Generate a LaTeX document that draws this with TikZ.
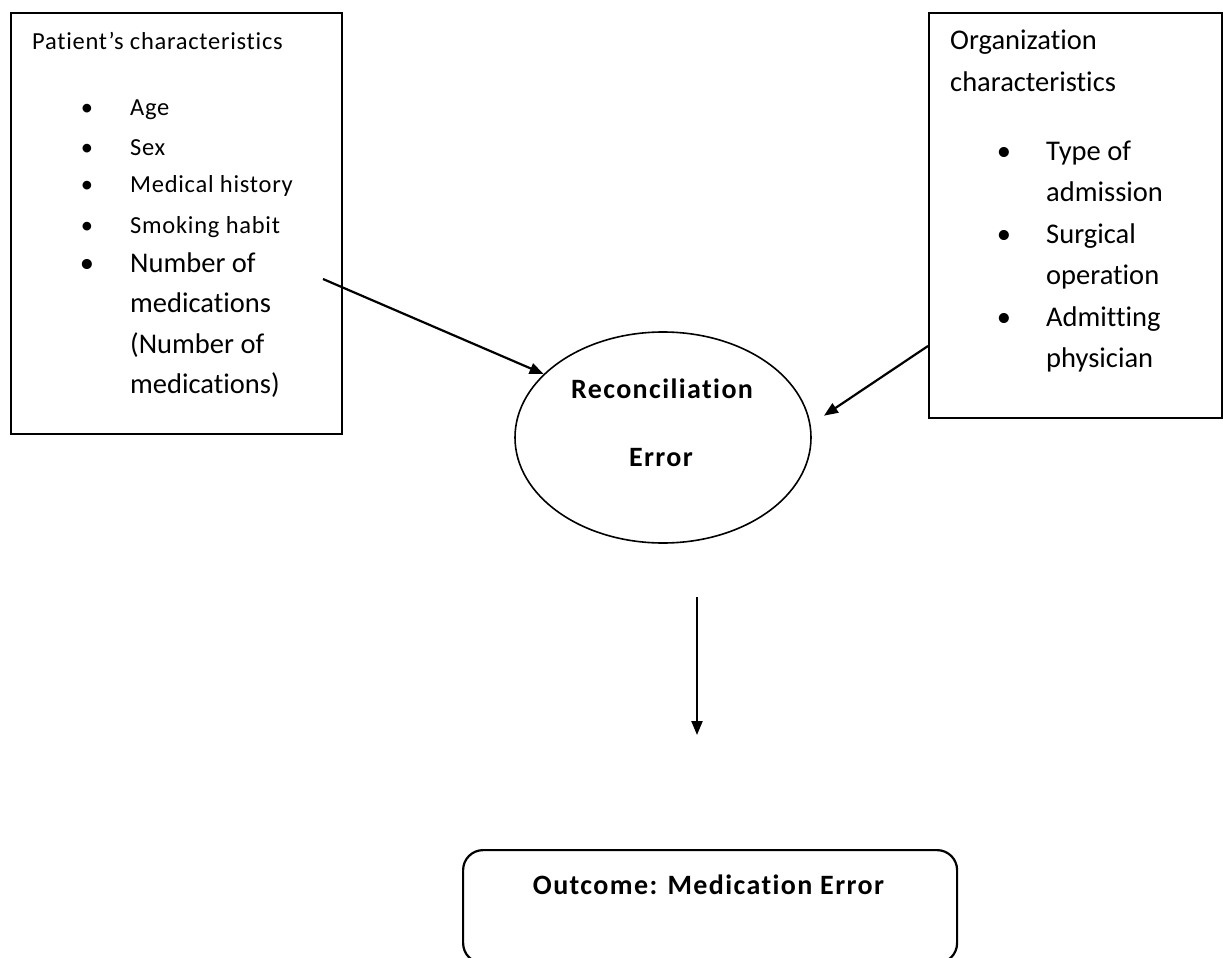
\documentclass[tikz,border=0pt]{standalone}
\usepackage{fontspec}
\setmainfont{Carlito}[Ligatures={NoCommon}]
\usetikzlibrary{shapes.geometric,arrows.meta}
\begin{document}
\begin{tikzpicture}[x=1pt,y=-1pt,
  box/.style={draw, line width=2.2pt, inner sep=0pt, anchor=north west},
  lbl/.style={anchor=base west, inner sep=0pt},
  bul/.style={anchor=base, inner sep=0pt},
  smalltxt/.style={font=\fontsize{24.5}{28}\selectfont\addfontfeatures{LetterSpace=3}},
  bigtxt/.style={font=\fontsize{28.5}{34}\selectfont},
  boldtxt/.style={font=\fontsize{28}{34}\selectfont\bfseries\addfontfeatures{LetterSpace=5}},
  arr/.style={-{Triangle[length=14pt,width=11pt]}, line width=2.2pt}
]
\useasboundingbox (0,0) rectangle (1223,958);

% boxes
\node[box, minimum width=331pt, minimum height=421pt] (pat) at (10,12) {};
\node[box, minimum width=293pt, minimum height=405pt] (org) at (928,12) {};
\node[draw, ellipse, line width=1.6pt, minimum width=296pt, minimum height=211pt, inner sep=0pt] (rec) at (663,437.5) {};
\node[box, rounded corners=20pt, minimum width=494pt, minimum height=113pt] (out) at (462,849) {};

% patient text
\node[lbl, smalltxt] (pt) at (32,50) {Patient’s characteristics};
\node[bul, smalltxt] (b1) at (87,115) {\textbullet};
\node[lbl, smalltxt] (i1) at (130,115) {Age};
\node[bul, smalltxt] (b2) at (87,155) {\textbullet};
\node[lbl, smalltxt] (i2) at (130,155) {Sex};
\node[bul, smalltxt] (b3) at (87,192) {\textbullet};
\node[lbl, smalltxt] (i3) at (130,192) {Medical history};
\node[bul, smalltxt] (b4) at (87,233) {\textbullet};
\node[lbl, smalltxt] (i4) at (130,233) {Smoking habit};
\node[bul, bigtxt] (b5) at (87,272) {\textbullet};
\node[lbl, bigtxt] (i5a) at (130,272) {Number of};
\node[lbl, bigtxt] (i5b) at (130,312) {medications};
\node[lbl, bigtxt] (i5c) at (130,353) {(Number of};
\node[lbl, bigtxt] (i5d) at (130,393) {medications)};

% organization text
\node[lbl, bigtxt] (ot1) at (950,50) {Organization};
\node[lbl, bigtxt] (ot2) at (950,91) {characteristics};
\node[bul, bigtxt] (c1) at (1004,160) {\textbullet};
\node[lbl, bigtxt] (j1a) at (1046,160) {Type of};
\node[lbl, bigtxt] (j1b) at (1046,201) {admission};
\node[bul, bigtxt] (c2) at (1004,243) {\textbullet};
\node[lbl, bigtxt] (j2a) at (1046,243) {Surgical};
\node[lbl, bigtxt] (j2b) at (1046,284) {operation};
\node[bul, bigtxt] (c3) at (1004,326) {\textbullet};
\node[lbl, bigtxt] (j3a) at (1046,326) {Admitting};
\node[lbl, bigtxt] (j3b) at (1046,367) {physician};

% ellipse text
\node[bul, boldtxt] (r1) at (662,398) {Reconciliation};
\node[bul, boldtxt] (r2) at (661,466) {Error};

% outcome text
\node[bul, boldtxt] (ot) at (708.5,894) {Outcome: Medication Error};

% connectors
\coordinate (s1) at (323,279);
\coordinate (s2) at (928,346);
\coordinate (v1) at (697,597);
\coordinate (v2) at (697,735);
\draw[arr] (s1) -- (rec.152);
\draw[arr, shorten >=16pt] (s2) -- (rec.5.6);
\draw[arr] (v1) -- (v2);
\end{tikzpicture}
\end{document}
